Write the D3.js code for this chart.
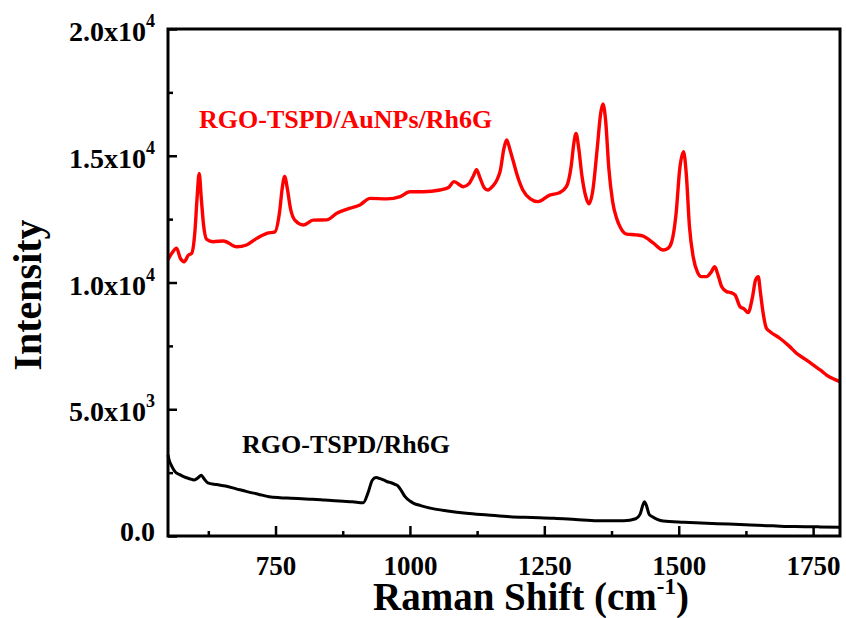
<!DOCTYPE html>
<html lang="en">
<head>
  <meta charset="UTF-8" />
  <title>Raman spectra</title>
  <script src="https://d3js.org/d3.v7.min.js"></script>
  <style>
    body {
      margin: 0;
      background: #fff;
    }
    svg text {
      font-family: "Liberation Serif", "Times New Roman", serif;
      font-weight: bold;
    }
  </style>
</head>
<body>
  <div id="chart"></div>

  <script>
    // spectrum with AuNPs (red)
    const redShift = [550, 557, 566, 573, 580, 588, 594, 600, 604, 608, 612, 616, 622, 634, 653, 678, 696, 715, 734, 749,
      757, 763, 767, 772, 778, 786, 802, 820, 845, 864, 889, 907, 926, 957, 982, 1000, 1025, 1056, 1072, 1082, 1099,
      1110, 1118, 1124, 1130, 1138, 1145, 1154, 1162, 1168, 1175, 1180, 1186, 1192, 1200, 1210, 1224, 1238, 1260,
      1278, 1291, 1300, 1305, 1309, 1314, 1320, 1327, 1333, 1340, 1348, 1355, 1359, 1364, 1370, 1377, 1385, 1392,
      1403, 1420, 1434, 1453, 1471, 1480, 1487, 1495, 1502, 1509, 1514, 1520, 1527, 1535, 1542, 1552, 1560, 1567,
      1573, 1580, 1589, 1597, 1605, 1614, 1622, 1629, 1637, 1643, 1648, 1652, 1657, 1663, 1670, 1688, 1705, 1719,
      1735, 1750, 1765, 1775, 1790, 1800];
    const redIntensity = [10900, 11150, 11350, 10950, 10820, 11080, 11150, 12000, 13300, 14300, 13300, 12300, 11700, 11610,
      11640, 11410, 11480, 11740, 11940, 12000, 12700, 13800, 14180, 13700, 12900, 12460, 12270, 12460, 12470, 12730,
      12930, 13060, 13320, 13300, 13390, 13580, 13580, 13650, 13750, 13980, 13780, 13900, 14200, 14450, 14150, 13750,
      13650, 13800, 14050, 14400, 15300, 15620, 15250, 14800, 14200, 13650, 13300, 13190, 13450, 13540, 13780, 14600,
      15500, 15880, 15300, 14200, 13400, 13100, 13600, 15200, 16700, 17040, 16400, 14500, 13200, 12500, 12150, 11910,
      11880, 11830, 11550, 11280, 11350, 11610, 12700, 14500, 15160, 14300, 12200, 11000, 10400, 10230, 10230, 10400,
      10620, 10300, 9830, 9640, 9600, 9500, 9050, 8950, 8810, 9400, 10100, 10230, 9600, 8800, 8200, 8060, 7800, 7500,
      7210, 6980, 6750, 6520, 6350, 6180, 6090];

    // spectrum without AuNPs (black)
    const blackShift = [550, 552, 556, 563, 571, 579, 590, 599, 606, 612, 617, 624, 640, 657, 677, 697, 718, 738, 758, 779,
      799, 819, 840, 860, 876, 893, 913, 922, 930, 937, 945, 952, 958, 965, 972, 978, 985, 991, 1000, 1007, 1020,
      1040, 1070, 1105, 1145, 1186, 1227, 1268, 1308, 1349, 1398, 1420, 1428, 1433, 1436, 1440, 1445, 1451, 1460,
      1471, 1510, 1552, 1593, 1634, 1675, 1716, 1760, 1800];
    const blackIntensity = [3200, 3000, 2800, 2540, 2430, 2340, 2260, 2210, 2300, 2400, 2260, 2100, 2030, 1970, 1860, 1750,
      1650, 1550, 1510, 1490, 1470, 1450, 1420, 1390, 1370, 1350, 1310, 1700, 2200, 2310, 2260, 2200, 2140, 2100,
      2040, 1970, 1750, 1550, 1380, 1290, 1200, 1090, 990, 900, 830, 760, 730, 700, 650, 600, 600, 680, 850, 1200,
      1350, 1200, 850, 760, 660, 590, 540, 500, 470, 430, 400, 370, 360, 350];

    const xMajor = [750, 1000, 1250, 1500, 1750];
    const xMinor = [625, 875, 1125, 1375, 1625];
    const yMajor = [0, 5000, 10000, 15000, 20000];
    const yMinor = [2500, 7500, 12500, 17500];
    const yLabels = [["0.0", ""], ["5.0x10", "3"], ["1.0x10", "4"], ["1.5x10", "4"], ["2.0x10", "4"]];

    const width = 846;
    const height = 618;
    const plotLeft = 168, plotRight = 840, plotTop = 29, plotBottom = 536;

    const svg = d3.select("#chart")
      .append("svg")
      .attr("width", width)
      .attr("height", height);

    const x = d3.scaleLinear().domain([550, 1800]).range([plotLeft, plotRight]);
    const y = d3.scaleLinear().domain([0, 20000]).range([plotBottom, plotTop]);

    const line = d3.line()
      .x(d => x(d[0]))
      .y(d => y(d[1]))
      .curve(d3.curveMonotoneX);

    svg.append("path")
      .datum(redShift.map((s, i) => [s, redIntensity[i]]))
      .attr("d", line)
      .attr("fill", "none")
      .attr("stroke", "#ff0000")
      .attr("stroke-width", 3.4)
      .attr("stroke-linejoin", "round");

    svg.append("path")
      .datum(blackShift.map((s, i) => [s, blackIntensity[i]]))
      .attr("d", line)
      .attr("fill", "none")
      .attr("stroke", "#000")
      .attr("stroke-width", 3)
      .attr("stroke-linejoin", "round");

    // axes, ticks pointing inward
    const xAxis = svg.append("g")
      .attr("transform", `translate(0,${plotBottom})`)
      .call(d3.axisBottom(x).tickValues(xMajor).tickSize(-10).tickFormat(d3.format("d")));
    svg.append("g")
      .attr("transform", `translate(0,${plotBottom})`)
      .call(d3.axisBottom(x).tickValues(xMinor).tickSize(-5).tickFormat(""));

    svg.append("g")
      .attr("transform", `translate(${plotLeft},0)`)
      .call(d3.axisLeft(y).tickValues(yMajor).tickSize(-9).tickFormat(""));
    svg.append("g")
      .attr("transform", `translate(${plotLeft},0)`)
      .call(d3.axisLeft(y).tickValues(yMinor).tickSize(-5).tickFormat(""));

    svg.selectAll(".domain").remove();
    svg.selectAll(".tick line").attr("stroke", "#000").attr("stroke-width", 2.5);

    xAxis.selectAll("text")
      .attr("font-size", 27)
      .attr("fill", "#000")
      .attr("y", 39)
      .attr("dy", null);

    yMajor.forEach((v, i) => {
      const t = svg.append("text")
        .attr("x", 155)
        .attr("y", y(v) + (yLabels[i][1] ? 12 : 5))
        .attr("text-anchor", "end")
        .attr("font-size", 28)
        .attr("fill", "#000")
        .text(yLabels[i][0]);
      if (yLabels[i][1]) {
        t.append("tspan")
          .attr("font-size", 18)
          .attr("dy", -14)
          .text(yLabels[i][1]);
      }
    });

    svg.append("rect")
      .attr("x", plotLeft)
      .attr("y", plotTop)
      .attr("width", plotRight - plotLeft)
      .attr("height", plotBottom - plotTop)
      .attr("fill", "none")
      .attr("stroke", "#000")
      .attr("stroke-width", 3);

    // axis titles
    const xTitle = svg.append("text")
      .attr("x", 531)
      .attr("y", 610)
      .attr("text-anchor", "middle")
      .attr("font-size", 39)
      .attr("fill", "#000")
      .text("Raman Shift (cm");
    xTitle.append("tspan").attr("font-size", 23).attr("dy", -16).text("-1");
    xTitle.append("tspan").attr("dy", 16).text(")");

    svg.append("text")
      .attr("transform", "translate(41,295) rotate(-90)")
      .attr("text-anchor", "middle")
      .attr("font-size", 40)
      .attr("fill", "#000")
      .text("Intensity");

    // series labels
    svg.append("text")
      .attr("x", 199)
      .attr("y", 128)
      .attr("font-size", 26)
      .attr("fill", "#ff0000")
      .text("RGO-TSPD/AuNPs/Rh6G");

    svg.append("text")
      .attr("x", 242)
      .attr("y", 453)
      .attr("font-size", 26)
      .attr("fill", "#000")
      .text("RGO-TSPD/Rh6G");
  </script>
</body>
</html>
